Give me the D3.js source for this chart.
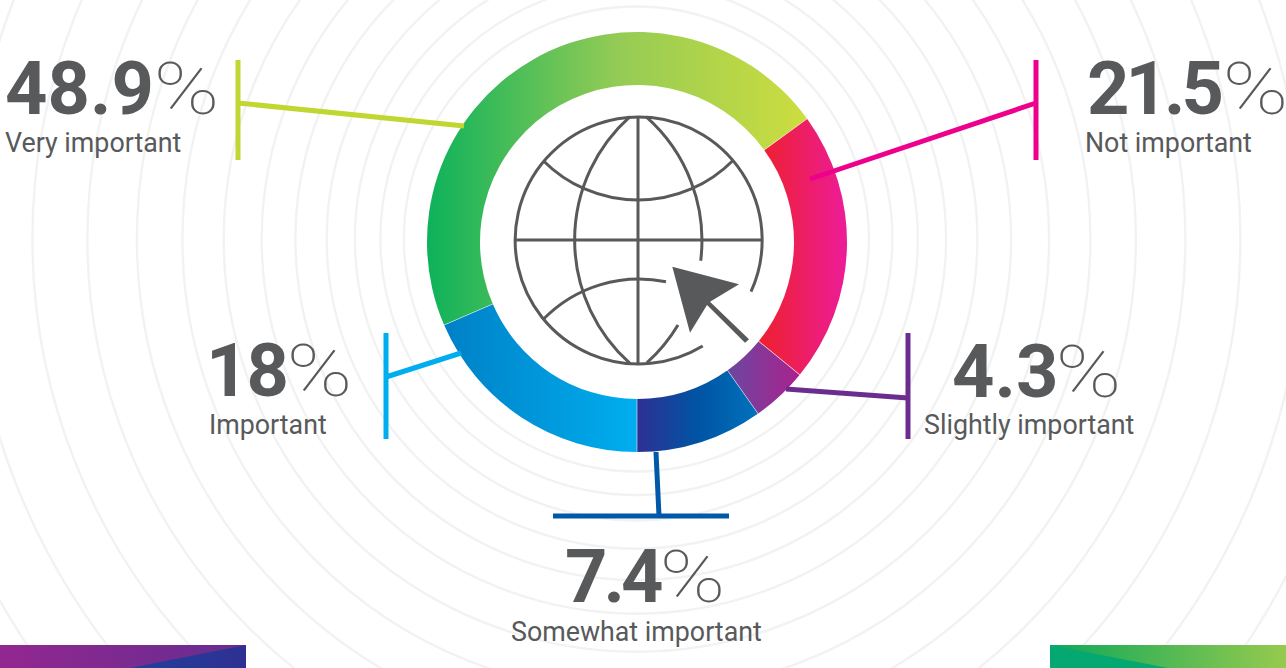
<!DOCTYPE html>
<html>
<head>
<meta charset="utf-8">
<script src="https://cdn.jsdelivr.net/npm/d3@7"></script>
<style>
  html, body { margin: 0; padding: 0; background: #fff; overflow: hidden; }
  text { fill: #58595b; font-family: Roboto, sans-serif; }
</style>
</head>
<body>
<div id="chart"></div>
<script>
// Data
const categories = ['Very important', 'Not important', 'Slightly important', 'Somewhat important', 'Important'];
const percents = ['48.9', '21.5', '4.3', '7.4', '18'];
// The drawn ring does not follow the printed numbers exactly, so these are the sweeps measured off it (degrees)
const arcSweeps = [167.4, 75.1, 15.6, 35.2, 66.7];
const ringRadii = [232.5, 256, 281.5, 309.7, 341, 374.7, 412.7, 454, 499.5, 549, 604, 667, 732];

const width = 1286;
const height = 668;
const cx = 637;
const cy = 242;
const grey = '#58595b';

const svg = d3.select('#chart')
    .append('svg')
    .attr('width', width)
    .attr('height', height)
    .style('display', 'block');

const defs = svg.append('defs');

// Horizontal gradient in the coordinates of the element using it
function addGradient(id, x1, x2, colors) {
    const g = defs.append('linearGradient')
        .attr('id', id)
        .attr('gradientUnits', 'userSpaceOnUse')
        .attr('x1', x1).attr('x2', x2)
        .attr('y1', 0).attr('y2', 0);
    colors.forEach((c, i) => {
        g.append('stop')
            .attr('offset', i / (colors.length - 1))
            .attr('stop-color', c);
    });
}

// Background rings
svg.append('g')
    .selectAll('circle')
    .data(ringRadii)
    .enter()
    .append('circle')
    .attr('cx', 636.4)
    .attr('cy', 239)
    .attr('r', d => d)
    .attr('fill', 'none')
    .attr('stroke', '#f1f2f2')
    .attr('stroke-width', 2.4);

// Slice gradients
const sliceStyles = [
    { x1: 427, x2: 807, colors: ['#0db25b', '#94cb55', '#cddd3f'] },
    { x1: 763, x2: 847, colors: ['#ee2031', '#ec1c99'] },
    { x1: 728, x2: 800, colors: ['#6b479f', '#ab218e'] },
    { x1: 637, x2: 758, colors: ['#2e3092', '#0054a4', '#0072bc'] },
    { x1: 444, x2: 637, colors: ['#0080c6', '#00aeef'] }
];
sliceStyles.forEach((s, i) => addGradient('slice' + i, s.x1 - cx, s.x2 - cx, s.colors));

// Ring
const pie = d3.pie()
    .value(d => d)
    .sort(null)
    .startAngle(246.7 * Math.PI / 180)
    .endAngle((246.7 + 360) * Math.PI / 180);

const arc = d3.arc()
    .innerRadius(157)
    .outerRadius(210)
    .padAngle(0.002);

const ring = svg.append('g')
    .attr('transform', `translate(${cx},${cy})`);

ring.selectAll('path')
    .data(pie(arcSweeps))
    .enter()
    .append('path')
    .attr('d', arc)
    .attr('fill', (d, i) => `url(#slice${i})`);

// Leader lines and end bars
const callouts = [
    { color: '#bfd730', leader: [238, 103, 464, 126], bar: [238, 60, 238, 160], num: [5, 114], spacing: 0, pct: [153.4, 114], label: [5, 152] },
    { color: '#ec008c', leader: [1036, 103, 810, 179], bar: [1036, 60, 1036, 160], num: [1087, 114], spacing: -4, pct: [1222.4, 114], label: [1085, 152] },
    { color: '#6b2c8f', leader: [908, 398, 786, 389], bar: [908, 333, 908, 439], num: [952, 397], spacing: 0, pct: [1055.4, 397], label: [924, 434] },
    { color: '#0059a8', leader: [659, 516, 656, 452], bar: [553, 516, 729, 516], num: [565, 602], spacing: -4, pct: [659.4, 602], label: [511, 641] },
    { color: '#00aeef', leader: [386, 377, 461, 353], bar: [386, 333, 386, 439], num: [206, 396], spacing: -2, pct: [286.4, 396], label: [209, 434] }
];

const callout = svg.append('g')
    .selectAll('g')
    .data(callouts)
    .enter()
    .append('g');

callout.selectAll('line')
    .data(d => [d.leader, d.bar].map(p => ({ p, color: d.color })))
    .enter()
    .append('line')
    .attr('x1', d => d.p[0])
    .attr('y1', d => d.p[1])
    .attr('x2', d => d.p[2])
    .attr('y2', d => d.p[3])
    .attr('stroke', d => d.color)
    .attr('stroke-width', 5);

// Numbers, thin percent signs and category names
callout.append('text')
    .attr('x', d => d.num[0])
    .attr('y', d => d.num[1])
    .attr('font-size', 74)
    .attr('font-weight', 700)
    .attr('letter-spacing', d => d.spacing)
    .text((d, i) => percents[i]);

callout.append('text')
    .attr('x', d => d.pct[0])
    .attr('y', d => d.pct[1])
    .attr('font-size', 72)
    .attr('font-weight', 100)
    .attr('textLength', 66)
    .attr('lengthAdjust', 'spacingAndGlyphs')
    .text('%');

callout.append('text')
    .attr('x', d => d.label[0])
    .attr('y', d => d.label[1])
    .attr('font-size', 26.8)
    .attr('font-weight', 400)
    .text((d, i) => categories[i]);

// Globe icon
const globe = svg.append('g')
    .attr('transform', 'translate(638,240)')
    .attr('fill', 'none')
    .attr('stroke', grey)
    .attr('stroke-width', 3);

globe.selectAll('path')
    .data([
        'M113,51.7 A123.5,123.5 0 1 0 64.7,106',   // outline, open where the cursor sits
        'M0,-123.5 V123.5',
        'M-124,0 H124',
        'M-8,-123.3 A165,165 0 0 0 -8,123.3',      // left meridian
        'M8,-123.3 A165,165 0 0 1 62.7,20.7',      // right meridian, upper part
        'M40,85 A165,165 0 0 1 9,122.7',           // right meridian, lower part
        'M-94.7,-79.3 A133.7,133.7 0 0 0 94.7,-79.3', // upper parallel
        'M-94.7,79.3 A133.7,133.7 0 0 1 28,41.7'   // lower parallel
    ])
    .enter()
    .append('path')
    .attr('d', d => d);

// Cursor
svg.append('path')
    .attr('d', 'M672.3,266.7 L739,284.3 L710,301.7 L749,339.3 L745,342.7 L707,305 L690,332.7 Z')
    .attr('fill', grey);

// Corner bands
addGradient('bandLeft', 0, 246, ['#92278f', '#662d91']);
addGradient('bandLeftTri', 130, 246, ['#21409a', '#2e3092']);
addGradient('bandRight', 1050, 1286, ['#0fa858', '#96ca4f']);

const bands = [
    { d: 'M0,645 H246 V668 H0 Z', fill: 'url(#bandLeft)' },
    { d: 'M246,645 V668 H130 Z', fill: 'url(#bandLeftTri)' },
    { d: 'M1050,645 H1286 V668 H1050 Z', fill: 'url(#bandRight)' },
    { d: 'M1050,645 V668 H1168 Z', fill: '#05a870' }
];

svg.append('g')
    .selectAll('path')
    .data(bands)
    .enter()
    .append('path')
    .attr('d', d => d.d)
    .attr('fill', d => d.fill);
</script>
</body>
</html>
